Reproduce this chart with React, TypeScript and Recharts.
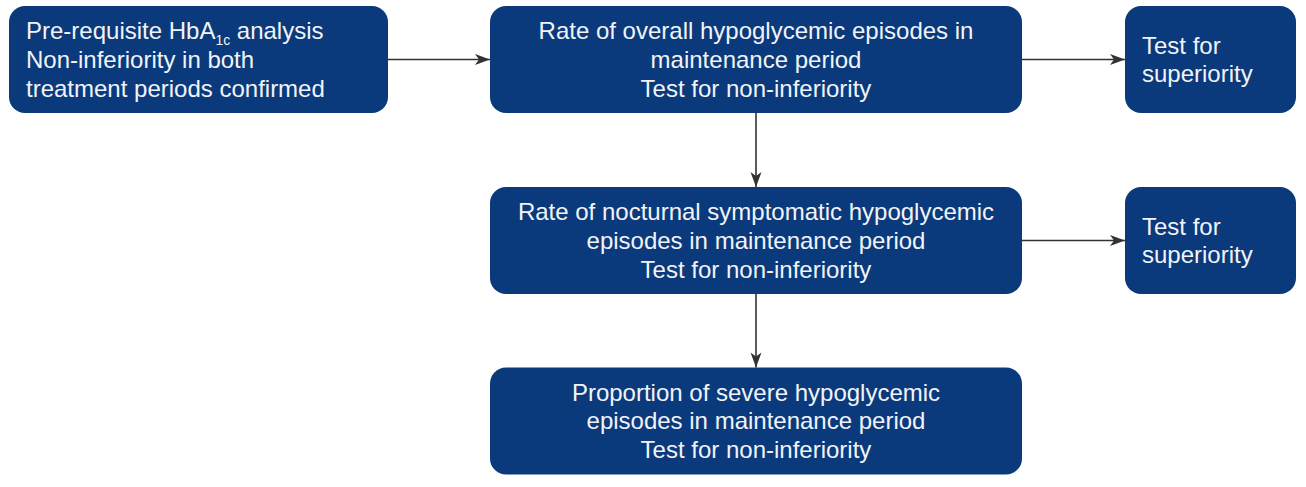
import React from 'react';
import { ScatterChart, Scatter, XAxis, YAxis } from 'recharts';

// flowchart nodes, placed on a column / row grid
const nodeIds = ['hba1c', 'overall', 'overallSup', 'nocturnal', 'nocturnalSup', 'severe'];
const nodeCols = [0, 1, 2, 1, 2, 1];
const nodeRows = [0, 0, 0, 1, 1, 2];
const nodeLines: string[][] = [
  ['Pre-requisite HbA_{1c} analysis', 'Non-inferiority in both', 'treatment periods confirmed'],
  ['Rate of overall hypoglycemic episodes in', 'maintenance period', 'Test for non-inferiority'],
  ['Test for', 'superiority'],
  ['Rate of nocturnal symptomatic hypoglycemic', 'episodes in maintenance period', 'Test for non-inferiority'],
  ['Test for', 'superiority'],
  ['Proportion of severe hypoglycemic', 'episodes in maintenance period', 'Test for non-inferiority'],
];

const edgeFrom = ['hba1c', 'overall', 'overall', 'nocturnal', 'nocturnal'];
const edgeTo = ['overall', 'overallSup', 'nocturnal', 'nocturnalSup', 'severe'];

// grid (in chart units)
const colCenters = [198.5, 756, 1210.5];
const rowCenters = [59.5, 240.5, 421];

// layout
const W = 1306;
const H = 487;
const colWidths = [379, 532, 171];
const boxHeight = 107;
const colAlign = ['start', 'middle', 'start'];
const BOX_FILL = '#0a3a7b';
const TEXT_FILL = '#f2f3f7';
const ARROW = '#333333';
const FONT = '"Liberation Sans", Arial, sans-serif';
const FS = 24;
const LINE_H = 28.8;

const nodes = nodeIds.map((id, i) => ({
  id,
  col: nodeCols[i],
  x: colCenters[nodeCols[i]],
  y: rowCenters[nodeRows[i]],
  lines: nodeLines[i],
}));

const byId = (id: string) => nodes.find((n) => n.id === id)!;

const edges = edgeFrom.map((f, i) => {
  const a = byId(f);
  const b = byId(edgeTo[i]);
  if (a.y === b.y) {
    const x1 = a.x + colWidths[a.col] / 2;
    const x2 = b.x - colWidths[b.col] / 2;
    return [
      { x: x1, y: a.y, end: false, dx: 1, dy: 0 },
      { x: x2, y: a.y, end: true, dx: 1, dy: 0 },
    ];
  }
  return [
    { x: a.x, y: a.y + boxHeight / 2, end: false, dx: 0, dy: 1 },
    { x: a.x, y: b.y - boxHeight / 2, end: true, dx: 0, dy: 1 },
  ];
});

const renderLine = (line: string) => {
  const m = line.match(/^(.*)_\{(.+?)\}(.*)$/);
  if (!m) return line;
  return (
    <>
      {m[1]}
      <tspan fontSize={FS * 0.58} dy={6}>{m[2]}</tspan>
      <tspan dy={-6}>{m[3]}</tspan>
    </>
  );
};

const BoxShape = (props: any) => {
  const { cx, cy, payload } = props;
  const w = colWidths[payload.col];
  const align = colAlign[payload.col];
  const n = payload.lines.length;
  const tx = align === 'middle' ? cx : cx - w / 2 + 17;
  return (
    <g>
      <rect x={cx - w / 2} y={cy - boxHeight / 2} width={w} height={boxHeight} rx={16} ry={16} fill={BOX_FILL} />
      {payload.lines.map((line: string, i: number) => (
        <text
          key={i}
          x={tx}
          y={cy + (i - (n - 1) / 2) * LINE_H + FS * 0.35}
          textAnchor={align}
          fontFamily={FONT}
          fontSize={FS}
          fill={TEXT_FILL}
        >
          {renderLine(line)}
        </text>
      ))}
    </g>
  );
};

const ArrowShape = (props: any) => {
  const { cx, cy, payload } = props;
  if (!payload.end) return <g />;
  const L = 15;
  const hw = 5.5;
  const back = 11;
  const { dx, dy } = payload;
  // perpendicular
  const px = -dy;
  const py = dx;
  const p = [
    [cx, cy],
    [cx - dx * L + px * hw, cy - dy * L + py * hw],
    [cx - dx * back, cy - dy * back],
    [cx - dx * L - px * hw, cy - dy * L - py * hw],
  ];
  return <path d={`M${p.map((q) => q.join(',')).join('L')}Z`} fill={ARROW} />;
};

export default function App() {
  return (
    <div style={{ position: 'absolute', left: 0, top: 0, width: W, height: H, background: '#ffffff' }}>
      <ScatterChart width={W} height={H} margin={{ top: 0, right: 0, bottom: 0, left: 0 }}>
        <XAxis type="number" dataKey="x" domain={[0, W]} hide />
        <YAxis type="number" dataKey="y" domain={[0, H]} reversed hide />
        <Scatter data={nodes} shape={BoxShape} isAnimationActive={false} />
        {edges.map((e, i) => (
          <Scatter
            key={i}
            data={e}
            line={{ stroke: ARROW, strokeWidth: 1.6 }}
            shape={ArrowShape}
            isAnimationActive={false}
          />
        ))}
      </ScatterChart>
    </div>
  );
}
